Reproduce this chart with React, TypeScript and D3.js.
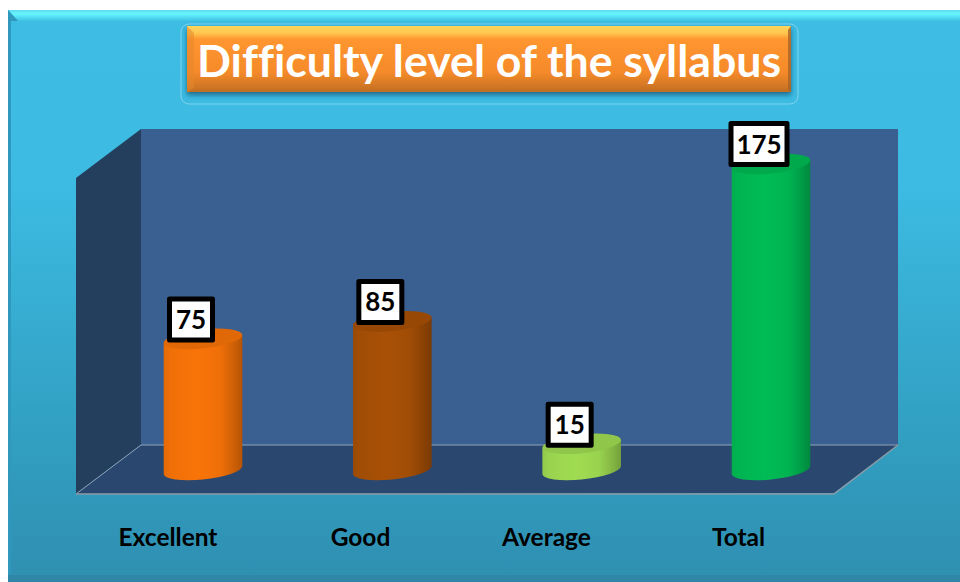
import React from "react";
import * as d3 from "d3";

const categories = ["Excellent", "Good", "Average", "Total"];
const values = [75, 85, 15, 175];
const valueLabels = ["75", "85", "15", "175"];
const title = "Difficulty level of the syllabus";
const baseColors = ["#F97408", "#A85006", "#A0DC52", "#00BC55"];

const W = 960, H = 582;
const x = d3.scalePoint<string>().domain(categories).range([203, 771]);
const y = d3.scaleLinear().domain([0, 175]).range([470, 164]);
const labelY = d3.scaleLinear().domain([0, 175]).range([451, 144]);
const RX = 39.5, RY = 9.5, TILT = -6;
const FONT = "Lato, 'Noto Sans', sans-serif";

function Cylinder({ i }: { i: number }) {
  const cx = x(categories[i])!;
  const top = y(values[i]);
  const base = y(0);
  const col = d3.color(baseColors[i])!;
  const dark = col.darker(0.9).formatHex();
  const mid = col.darker(0.25).formatHex();
  const capCol = col.darker(0.3).formatHex();
  const th = (TILT * Math.PI) / 180;
  const t = Math.atan2(-RY * Math.sin(th), RX * Math.cos(th));
  const ex = RX * Math.cos(t) * Math.cos(th) - RY * Math.sin(t) * Math.sin(th);
  const ey = RX * Math.cos(t) * Math.sin(th) + RY * Math.sin(t) * Math.cos(th);
  const body = `M${cx - ex},${top - ey} L${cx - ex},${base - ey} A${RX},${RY} ${TILT} 0 0 ${cx + ex},${base + ey} L${cx + ex},${top + ey} Z`;
  return (
    <g>
      <defs>
        <linearGradient id={`cyl${i}`} x1="0" x2="1" y1="0" y2="0">
          <stop offset="0" stopColor={mid} />
          <stop offset="0.08" stopColor={col.darker(0.12).formatHex()} />
          <stop offset="0.42" stopColor={baseColors[i]} />
          <stop offset="0.72" stopColor={col.darker(0.12).formatHex()} />
          <stop offset="0.86" stopColor={col.darker(0.45).formatHex()} />
          <stop offset="1" stopColor={dark} />
        </linearGradient>
      </defs>
      <path d={body} fill={`url(#cyl${i})`} />
      <ellipse cx={cx} cy={top} rx={RX} ry={RY} fill={capCol} transform={`rotate(${TILT} ${cx} ${top})`} />
    </g>
  );
}

export default function App() {
  return (
    <svg width={W} height={H} viewBox={`0 0 ${W} ${H}`} style={{ position: "absolute", left: 0, top: 0, display: "block" }}>
      <defs>
        <linearGradient id="bg" x1="0" x2="0" y1="0" y2="1">
          <stop offset="0" stopColor="#3DBCE4" />
          <stop offset="0.3" stopColor="#3DBBE3" />
          <stop offset="0.7" stopColor="#32A2C4" />
          <stop offset="1" stopColor="#2F8FB1" />
        </linearGradient>
        <linearGradient id="bevelTop" x1="0" x2="0" y1="0" y2="1">
          <stop offset="0" stopColor="#5FD8EE" />
          <stop offset="0.35" stopColor="#66F6FF" />
          <stop offset="1" stopColor="#3EC0E4" />
        </linearGradient>
        <linearGradient id="titleFill" x1="0" x2="0" y1="0" y2="1">
          <stop offset="0" stopColor="#FFD75E" />
          <stop offset="0.11" stopColor="#FFC54E" />
          <stop offset="0.2" stopColor="#FF9630" />
          <stop offset="0.7" stopColor="#F58A2A" />
          <stop offset="0.88" stopColor="#D87A25" />
          <stop offset="1" stopColor="#BE6E24" />
        </linearGradient>
        <filter id="titleShadow" x="-5%" y="-20%" width="110%" height="140%">
          <feDropShadow dx="0" dy="3" stdDeviation="2.5" floodColor="#0B4A66" floodOpacity="0.7" />
        </filter>
      </defs>
      <rect width={W} height={H} fill="#fff" />
      <rect x={8} y={10} width={952} height={572} fill="url(#bg)" />
      <polygon points="8,10 960,10 960,21 18,21" fill="url(#bevelTop)" />
      <polygon points="8,10 18,21 11,21 11,582 8,582" fill="#3098BC" />
      <rect x={8} y={575} width={952} height={7} fill="#2F86A6" />

      <rect x={181} y={24} width={617} height={80} rx={8} fill="#3DBBE3" stroke="#7FD3EA" strokeWidth={1} />
      <rect x={187} y={26} width={604} height={66} fill="url(#titleFill)" filter="url(#titleShadow)" />
      <polygon points="187,26 194,33 194,88 187,92" fill="#E5862C" opacity={0.55} />
      <polygon points="791,26 788,30 788,90 791,92" fill="#A8642A" opacity={0.8} />
      <text x={489} y={76.5} textAnchor="middle" fill="#fff" fontFamily={FONT} fontWeight={700} fontSize={43} textLength={584} lengthAdjust="spacingAndGlyphs" style={{ fontVariantLigatures: "none" }}>{title}</text>

      <rect x={141} y={129} width={757} height={316} fill="#3A6092" />
      <polygon points="76,178 141,129 141,445 76,494" fill="#243F5E" />
      <polygon points="76,494 141,445 898,445 834,493" fill="#2A486F" />
      <polyline points="76,494 141,445 898,445" fill="none" stroke="#8FA3B8" strokeWidth={1} />
      <polyline points="76,494 834,494 898,445" fill="none" stroke="#8C9AA6" strokeWidth={1.5} />

      {categories.map((_, i) => <Cylinder key={i} i={i} />)}

      {categories.map((c, i) => {
        const cx = x(c)! - 12;
        const cy = labelY(values[i]);
        const w = valueLabels[i].length === 3 ? 56 : 43;
        const h = 41;
        return (
          <g key={c}>
            <rect x={cx - w / 2} y={cy - h / 2} width={w} height={h} fill="#fff" stroke="#000" strokeWidth={5} strokeLinejoin="round" />
            <text x={cx} y={cy + 9.5} textAnchor="middle" fontFamily={FONT} fontWeight={700} fontSize={26} fill="#000">{valueLabels[i]}</text>
          </g>
        );
      })}

      {categories.map((c, i) => (
        <text key={c} x={[168, 360.5, 546.5, 738.5][i]} y={545.5} textAnchor="middle" fontFamily={FONT} fontWeight={700} fontSize={24.5} fill="#000">{c}</text>
      ))}
    </svg>
  );
}
